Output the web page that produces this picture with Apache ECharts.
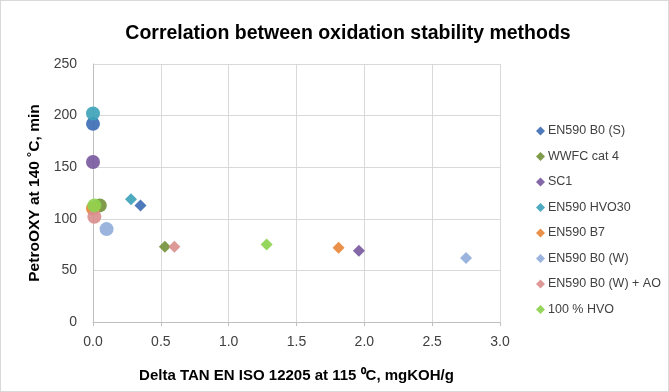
<!DOCTYPE html>
<html><head><meta charset="utf-8">
<script src="https://cdn.jsdelivr.net/npm/echarts@6/dist/echarts.min.js"></script>
<style>html,body{margin:0;padding:0;background:#fff}#c{width:669px;height:392px;box-sizing:border-box;border:1px solid #d9d9d9}</style>
</head><body><div id="c"></div>
<script>
var seriesNames = ['EN590 B0 (S)','WWFC cat 4','SC1','EN590 HVO30','EN590 B7','EN590 B0 (W)','EN590 B0 (W) + AO','100 % HVO'];
var seriesColors = ['#3F6FB6','#75923C','#7A5A9E','#3FA3B8','#E9873A','#93AEDB','#DA8F8F','#8ED24F'];
// circle point (x, y) per series
var circleX = [0.00, 0.05, 0.00, 0.00, 0.00, 0.10, 0.01, 0.01];
var circleY = [192, 113, 155, 202, 110, 90, 102, 113];
// diamond point (x, y) per series
var diamondX = [0.35, 0.53, 1.96, 0.28, 1.81, 2.75, 0.60, 1.28];
var diamondY = [113, 73, 69, 119, 72, 62, 73, 75];
var xTicks = [0, 0.5, 1.0, 1.5, 2.0, 2.5, 3.0];
var yTicks = [0, 50, 100, 150, 200, 250];

var FONT = 'Liberation Sans';
var series = seriesNames.map(function(n,i){
  return {
    name: n, type: 'scatter', symbol: 'diamond', symbolSize: 11,
    itemStyle: {color: seriesColors[i], opacity: 0.92},
    data: [
      {value: [circleX[i], circleY[i]], symbol: 'circle', symbolSize: 14},
      {value: [diamondX[i], diamondY[i]], symbol: 'diamond', symbolSize: 12}
    ]
  };
});
var chart = echarts.init(document.getElementById('c'));
chart.setOption({
  animation: false,
  title: {text: 'Correlation between oxidation stability methods', left: 342, top: 18, textAlign: 'center',
    textStyle: {fontFamily: FONT, fontSize: 19.5, fontWeight: 'bold', color: '#000'}},
  legend: {orient: 'vertical', left: 530, top: 118, itemGap: 11.5, itemWidth: 9, itemHeight: 9,
    icon: 'diamond', data: seriesNames,
    textStyle: {fontFamily: FONT, fontSize: 12.5, color: '#404040', padding: [0,0,0,-2], lineHeight: 14}},
  grid: {left: 92, right: 168, top: 63, bottom: 69},
  xAxis: {type: 'value', min: 0, max: 3, interval: 0.5,
    name: 'Delta TAN EN ISO 12205 at 115 \u2070C, mgKOH/g', nameLocation: 'middle', nameGap: 46,
    nameTextStyle: {fontFamily: FONT, fontSize: 15, fontWeight: 'bold', color: '#000'},
    axisLine: {show: true, lineStyle: {color: '#bfbfbf'}},
    axisTick: {show: true, length: 4, lineStyle: {color: '#bfbfbf'}},
    axisLabel: {fontFamily: FONT, fontSize: 14, color: '#404040', margin: 13,
      formatter: function(v){ return v.toFixed(1); }},
    splitLine: {show: true, lineStyle: {color: '#d9d9d9'}}},
  yAxis: {type: 'value', min: 0, max: 250, interval: 50,
    name: 'PetroOXY at 140 \u02daC, min', nameLocation: 'middle', nameGap: 44, nameRotate: 90,
    nameTextStyle: {fontFamily: FONT, fontSize: 15.5, fontWeight: 'bold', color: '#000'},
    axisLine: {show: true, lineStyle: {color: '#bfbfbf'}},
    axisTick: {show: false},
    axisLabel: {fontFamily: FONT, fontSize: 14, color: '#404040', margin: 16},
    splitLine: {show: true, lineStyle: {color: '#d9d9d9'}}},
  series: series
});
</script></body></html>
